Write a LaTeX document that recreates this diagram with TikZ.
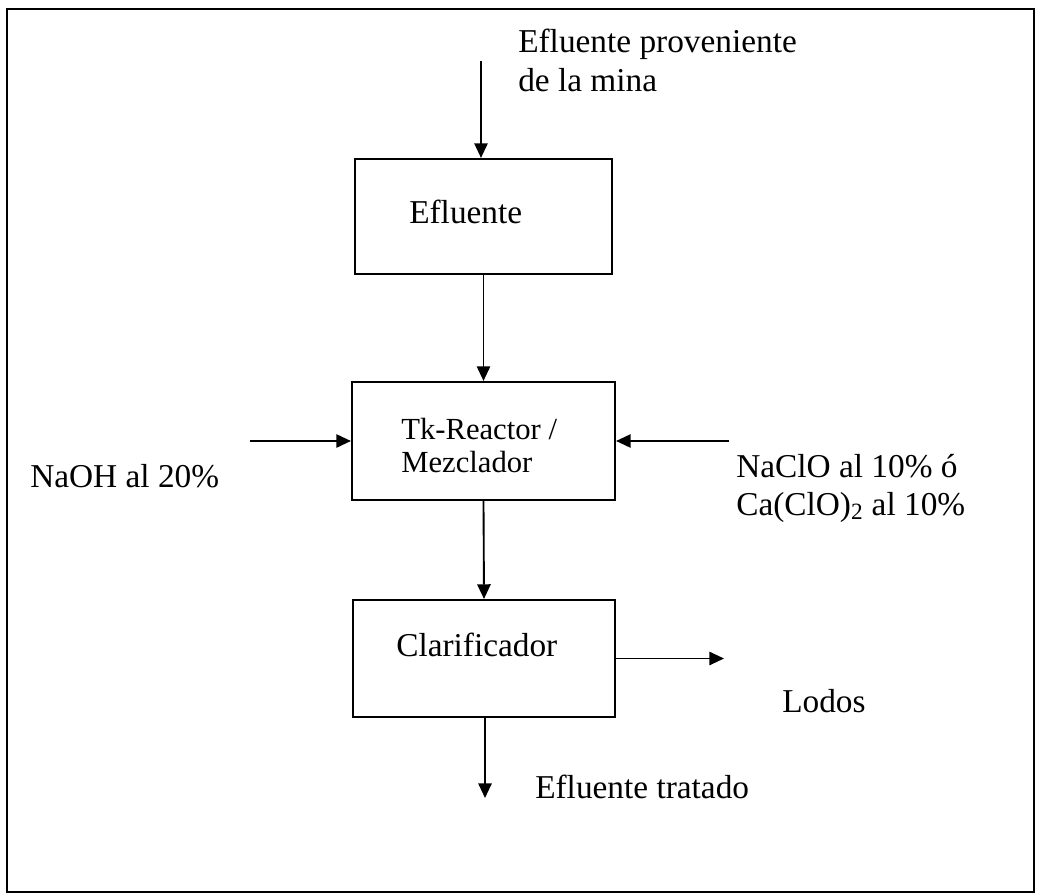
\documentclass[tikz,border=0pt]{standalone}
\usepackage{fontspec}
\setmainfont{Liberation Serif}
\usetikzlibrary{arrows.meta}
\begin{document}
\begin{tikzpicture}[x=0.75pt,y=-0.75pt,
  box/.style={draw, line width=1.6pt, inner sep=0pt},
  lbl/.style={inner sep=0pt, anchor=base west, font=\fontsize{25}{29}\selectfont},
  slbl/.style={inner sep=0pt, anchor=base west, font=\fontsize{23}{27}\selectfont},
  arr/.style={line width=1.4pt, -{Triangle[length=11pt,width=10pt]}}]
\useasboundingbox (0,0) rectangle (1037,895);
\draw[line width=2pt] (7,9) rectangle (1034,892);
% boxes
\node[box, minimum width=192.75pt, minimum height=86.25pt] (efl) at (483.5,216.5) {};
\node[box, minimum width=197.25pt, minimum height=88.5pt] (reac) at (483.5,441) {};
\node[box, minimum width=196.5pt, minimum height=87.75pt] (clar) at (484,658.5) {};
% labels
\node[lbl] (tin1) at (518,53) {Efluente proveniente};
\node[lbl] (tin2) at (518,92) {de la mina};
\node[lbl] (tefl) at (409,223) {Efluente};
\node[slbl] (treac1) at (401,439) {Tk-Reactor /};
\node[slbl] (treac2) at (401,472) {Mezclador};
\node[lbl] (tnaoh) at (30,487) {NaOH al 20\%};
\node[lbl] (tnaclo1) at (736,477) {NaClO al 10\% ó};
\node[lbl] (tnaclo2) at (736,515) {Ca(ClO)\textsubscript{2} al 10\%};
\node[lbl] (tclar) at (396,656) {Clarificador};
\node[lbl] (tlodos) at (782,712) {Lodos};
\node[lbl] (tout) at (535,798) {Efluente tratado};
% connector ends
\coordinate (cin) at (481,61);
\coordinate (cnaoh) at (250,441);
\coordinate (cnaclo) at (729,441);
\coordinate (clodos) at (724,658.5);
\coordinate (cout) at (485,798);
% connectors
\draw[arr] (cin) -- (cin |- efl.north);
\draw[arr] (efl.south) -- (reac.north);
\draw[arr] (cnaoh) -- (reac.west);
\draw[arr] (cnaclo) -- (reac.east);
\draw[arr] (reac.south) -- (clar.north);
\draw[arr] (clar.east) -- (clodos);
\draw[arr] (clar.south -| cout) -- (cout);
\end{tikzpicture}
\end{document}
